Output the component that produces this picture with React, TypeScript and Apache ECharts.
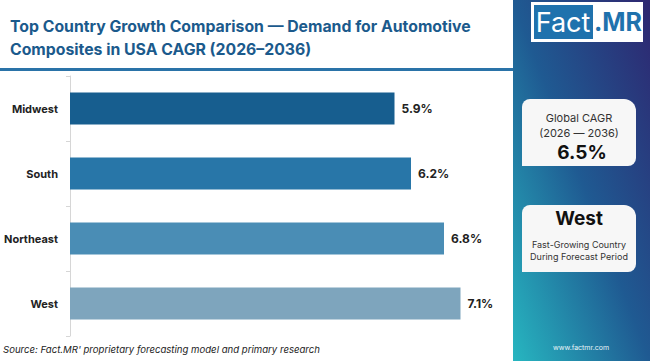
import React, { useEffect, useRef } from "react";
import * as echarts from "echarts";

const categories = ["Midwest", "South", "Northeast", "West"];
const cagrValues = [5.9, 6.2, 6.8, 7.1];
const barColors = ["#175e8f", "#2876a8", "#4a8db5", "#7ea5bd"];
const titleLines = [
  "Top Country Growth Comparison \u2014 Demand for Automotive",
  "Composites in USA CAGR (2026\u20132036)",
];
const globalCagr = "6.5%";
const leadRegion = "West";

const FONT = "Inter, 'Noto Sans', sans-serif";

export default function App() {
  const ref = useRef<HTMLDivElement>(null);
  useEffect(() => {
    if (!ref.current) return;
    const chart = echarts.init(ref.current, undefined, { renderer: "svg" });
    chart.setOption({
      animation: false,
      backgroundColor: "#ffffff",
      grid: { left: 70, right: 140, top: 76, bottom: 25 },
      xAxis: {
        type: "value",
        min: 0,
        max: 8,
        show: false,
        splitLine: { show: false },
      },
      yAxis: {
        type: "category",
        inverse: true,
        data: categories,
        axisLine: { show: true, lineStyle: { color: "#d6d6d6", width: 1 } },
        axisTick: { show: true, length: 4, lineStyle: { color: "#d6d6d6" } },
        axisLabel: {
          color: "#222222",
          fontWeight: "bold",
          fontSize: 11,
          fontFamily: FONT,
          margin: 12,
        },
      },
      series: [
        {
          type: "bar",
          barWidth: 32,
          data: cagrValues.map((v, i) => ({
            value: v,
            itemStyle: { color: barColors[i] },
          })),
          label: {
            show: true,
            position: "right",
            distance: 7,
            color: "#222222",
            fontWeight: "bold",
            fontSize: 12,
            fontFamily: FONT,
            formatter: (p: any) => p.value.toFixed(1) + "%",
          },
        },
      ],
      graphic: [
        // title
        {
          type: "text",
          left: 10,
          top: 15,
          style: {
            text: titleLines.join("\n"),
            fill: "#1b5a8c",
            font: `bold 15.8px ${FONT}`,
            lineHeight: 23,
          },
        },
        {
          type: "rect",
          shape: { x: 0, y: 68, width: 513, height: 3 },
          style: { fill: "#2a73a8" },
        },
        // right panel
        {
          type: "rect",
          shape: { x: 513, y: 0, width: 137, height: 361 },
          style: {
            fill: new echarts.graphic.LinearGradient(1, 0, 0, 1, [
              { offset: 0, color: "#2e2670" },
              { offset: 0.5, color: "#1f5a92" },
              { offset: 1, color: "#27b6c0" },
            ]),
          },
        },
        // logo
        {
          type: "rect",
          shape: { x: 531, y: 2, width: 112, height: 40 },
          style: { fill: "#ffffff" },
        },
        {
          type: "rect",
          shape: { x: 534, y: 5, width: 59, height: 34 },
          style: { fill: "#1f72ad" },
        },
        {
          type: "text",
          x: 563,
          y: 22,
          style: {
            text: "Fact",
            fill: "#ffffff",
            font: `27px ${FONT}`,
            align: "center",
            verticalAlign: "middle",
          },
        },
        {
          type: "text",
          x: 618,
          y: 22,
          style: {
            text: ".MR",
            fill: "#1f72ad",
            font: `bold 25px ${FONT}`,
            align: "center",
            verticalAlign: "middle",
          },
        },
        // card 1
        {
          type: "rect",
          shape: { x: 522, y: 99, width: 114, height: 67, r: [8, 12, 8, 0] },
          style: { fill: "#f7f7f7" },
        },
        {
          type: "text",
          x: 579,
          y: 118,
          style: {
            text: "Global CAGR",
            fill: "#333333",
            font: `11px ${FONT}`,
            align: "center",
            verticalAlign: "middle",
          },
        },
        {
          type: "text",
          x: 579,
          y: 133,
          style: {
            text: "(2026 \u2014 2036)",
            fill: "#333333",
            font: `11px ${FONT}`,
            align: "center",
            verticalAlign: "middle",
          },
        },
        {
          type: "text",
          x: 582,
          y: 152,
          style: {
            text: globalCagr,
            fill: "#111111",
            font: `bold 19px ${FONT}`,
            align: "center",
            verticalAlign: "middle",
          },
        },
        // card 2
        {
          type: "rect",
          shape: { x: 522, y: 205, width: 114, height: 67, r: [8, 12, 8, 0] },
          style: { fill: "#f7f7f7" },
        },
        {
          type: "text",
          x: 579,
          y: 218,
          style: {
            text: leadRegion,
            fill: "#111111",
            font: `bold 19px ${FONT}`,
            align: "center",
            verticalAlign: "middle",
          },
        },
        {
          type: "text",
          x: 579,
          y: 244,
          style: {
            text: "Fast-Growing Country",
            fill: "#333333",
            font: `9px ${FONT}`,
            align: "center",
            verticalAlign: "middle",
          },
        },
        {
          type: "text",
          x: 579,
          y: 256,
          style: {
            text: "During Forecast Period",
            fill: "#333333",
            font: `9px ${FONT}`,
            align: "center",
            verticalAlign: "middle",
          },
        },
        {
          type: "text",
          x: 581,
          y: 347,
          style: {
            text: "www.factmr.com",
            fill: "#e8f4f8",
            font: `7px ${FONT}`,
            align: "center",
            verticalAlign: "middle",
          },
        },
        // source
        {
          type: "text",
          x: 3,
          y: 349,
          style: {
            text: "Source: Fact.MR' proprietary forecasting model and primary research",
            fill: "#222222",
            font: `italic 9.6px ${FONT}`,
            verticalAlign: "middle",
          },
        },
      ],
    });
    return () => chart.dispose();
  }, []);
  return (
    <div
      ref={ref}
      style={{ position: "fixed", left: 0, top: 0, width: 650, height: 361 }}
    />
  );
}
